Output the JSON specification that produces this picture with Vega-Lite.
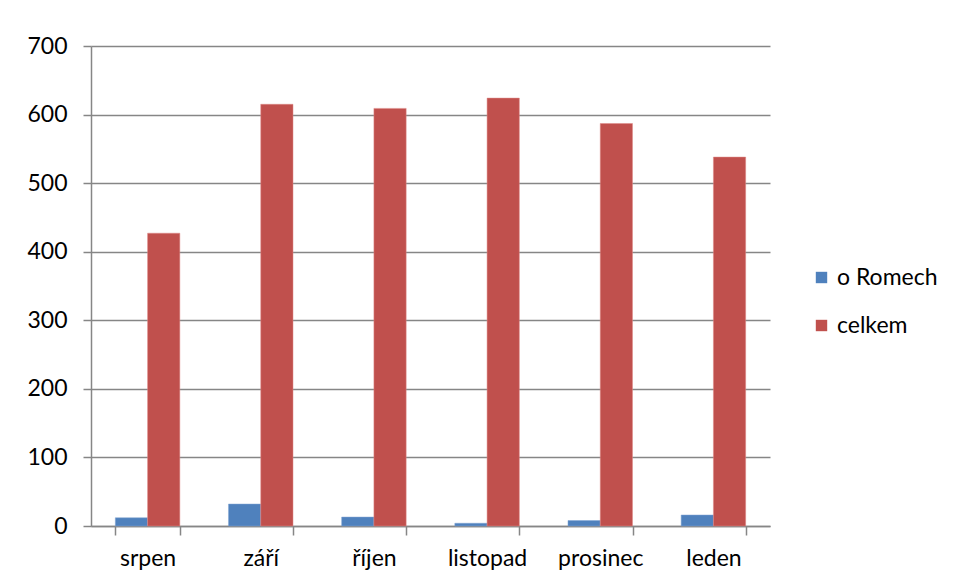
{
  "$schema": "https://vega.github.io/schema/vega-lite/v6.json",
  "width": 679,
  "height": 480,
  "autosize": {"type": "none"},
  "padding": {"left": 91, "top": 46, "right": 186, "bottom": 59},
  "background": "white",
  "data": {
    "values": [
      {"mesic": "srpen", "rada": "o Romech", "pocet": 12},
      {"mesic": "srpen", "rada": "celkem", "pocet": 427},
      {"mesic": "září", "rada": "o Romech", "pocet": 32},
      {"mesic": "září", "rada": "celkem", "pocet": 615},
      {"mesic": "říjen", "rada": "o Romech", "pocet": 13},
      {"mesic": "říjen", "rada": "celkem", "pocet": 609},
      {"mesic": "listopad", "rada": "o Romech", "pocet": 4},
      {"mesic": "listopad", "rada": "celkem", "pocet": 624},
      {"mesic": "prosinec", "rada": "o Romech", "pocet": 8},
      {"mesic": "prosinec", "rada": "celkem", "pocet": 587},
      {"mesic": "leden", "rada": "o Romech", "pocet": 16},
      {"mesic": "leden", "rada": "celkem", "pocet": 538}
    ]
  },
  "mark": {"type": "bar", "strokeWidth": 1, "strokeOpacity": 0.5},
  "encoding": {
    "x": {
      "field": "mesic",
      "type": "nominal",
      "sort": ["srpen", "září", "říjen", "listopad", "prosinec", "leden"],
      "scale": {"paddingInner": 0.43, "paddingOuter": 0.215},
      "axis": {
        "title": null,
        "labelAngle": 0,
        "bandPosition": 0,
        "tickBand": "extent",
        "ticks": true,
        "tickSize": 9,
        "labelPadding": 12,
        "grid": false
      }
    },
    "xOffset": {
      "field": "rada",
      "type": "nominal",
      "sort": ["o Romech", "celkem"],
      "scale": {"paddingInner": 0, "paddingOuter": 0}
    },
    "y": {
      "field": "pocet",
      "type": "quantitative",
      "scale": {"domain": [0, 700], "nice": false},
      "axis": {
        "title": null,
        "values": [0, 100, 200, 300, 400, 500, 600, 700],
        "tickSize": 8,
        "labelPadding": 16,
        "grid": true
      }
    },
    "color": {
      "field": "rada",
      "type": "nominal",
      "sort": ["o Romech", "celkem"],
      "scale": {"domain": ["o Romech", "celkem"], "range": ["#4F81BD", "#C0504D"]},
      "legend": {
        "title": null,
        "orient": "none",
        "legendX": 719,
        "legendY": 220,
        "symbolType": "square",
        "symbolSize": 130,
        "symbolStrokeWidth": 0,
        "labelOffset": 4,
        "rowPadding": 24,
        "labelFontSize": 23,
        "labelFont": "Lato",
        "labelColor": "#000000"
      }
    },
    "stroke": {
      "field": "rada",
      "type": "nominal",
      "scale": {"domain": ["o Romech", "celkem"], "range": ["#7FA3D3", "#E08A88"]},
      "legend": null
    }
  },
  "config": {
    "view": {"stroke": null},
    "axis": {
      "labelFont": "Lato",
      "labelFontSize": 23,
      "labelColor": "#000000",
      "domainColor": "#868686",
      "domainWidth": 1.5,
      "tickColor": "#868686",
      "tickWidth": 1.5,
      "gridColor": "#868686",
      "gridWidth": 1.5
    }
  }
}
